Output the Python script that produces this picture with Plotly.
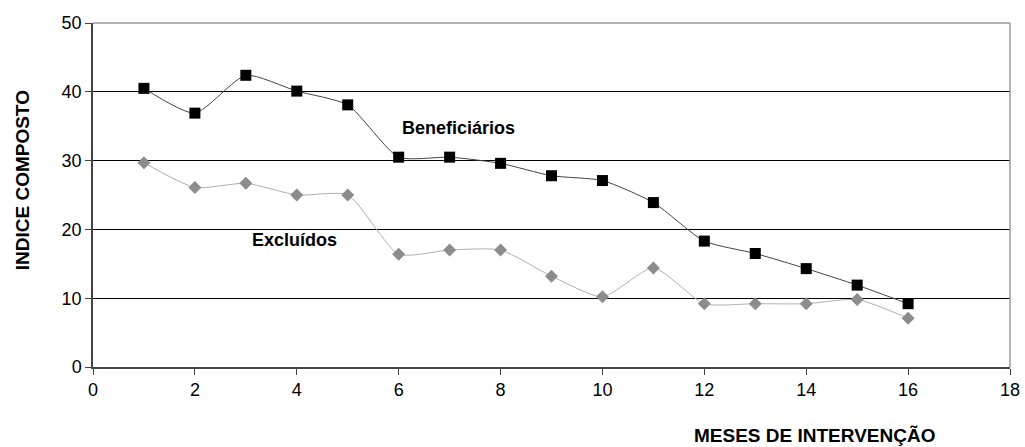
import plotly.graph_objects as go

meses = list(range(1, 17))
beneficiarios = [40.5, 36.9, 42.4, 40.1, 38.1, 30.5, 30.5, 29.6, 27.8, 27.1, 23.9, 18.3, 16.5, 14.3, 11.9, 9.2]
excluidos = [29.7, 26.1, 26.7, 25.0, 25.0, 16.4, 17.0, 17.0, 13.2, 10.2, 14.4, 9.2, 9.2, 9.2, 9.8, 7.1]
x_ticks = list(range(0, 19, 2))
y_ticks = list(range(0, 51, 10))

FONT = "Liberation Sans, Arial, sans-serif"

fig = go.Figure()
fig.add_trace(go.Scatter(
    x=meses, y=excluidos, mode="lines+markers", name="Excluídos",
    line=dict(color="#b0b0b0", width=1, shape="spline", smoothing=0.6),
    marker=dict(symbol="diamond", size=10, color="#8c8c8c"),
))
fig.add_trace(go.Scatter(
    x=meses, y=beneficiarios, mode="lines+markers", name="Beneficiários",
    line=dict(color="#444444", width=1, shape="spline", smoothing=0.6),
    marker=dict(symbol="square", size=11, color="#000000"),
))

fig.add_annotation(x=7.18, y=34.7, text="<b>Beneficiários</b>", showarrow=False,
                   font=dict(family=FONT, size=18, color="#000"))
fig.add_annotation(x=3.95, y=18.5, text="<b>Excluídos</b>", showarrow=False,
                   font=dict(family=FONT, size=18, color="#000"))
fig.add_annotation(xref="paper", yref="paper", x=0.787, y=-0.2, yanchor="middle",
                   xanchor="center", text="<b>MESES DE INTERVENÇÃO</b>", showarrow=False,
                   font=dict(family=FONT, size=19, color="#000"))
fig.add_annotation(xref="paper", yref="paper", x=-0.077, y=0.544, yanchor="middle",
                   xanchor="center", textangle=-90, text="<b>INDICE COMPOSTO</b>",
                   showarrow=False, font=dict(family=FONT, size=19, color="#000"))

fig.update_layout(
    width=1025, height=447,
    margin=dict(l=93, r=15, t=23, b=80, autoexpand=False),
    paper_bgcolor="white", plot_bgcolor="white",
    showlegend=False,
    font=dict(family=FONT, size=18, color="#000"),
    shapes=[
        dict(type="line", xref="paper", yref="paper", x0=0, x1=1, y0=1, y1=1,
             line=dict(color="#999999", width=1.5)),
        dict(type="line", xref="paper", yref="paper", x0=1, x1=1, y0=0, y1=1,
             line=dict(color="#999999", width=1.5)),
    ],
)
fig.update_xaxes(
    range=[0, 18], tickvals=x_ticks, ticks="outside", ticklen=6, tickcolor="#444",
    showgrid=False, zeroline=False, showline=True, linecolor="#444", linewidth=1.5,
    automargin=False,
)
fig.update_yaxes(
    range=[0, 50], tickvals=y_ticks, ticks="outside", ticklen=6, tickcolor="#444",
    showgrid=True, gridcolor="#000000", gridwidth=1, zeroline=False,
    showline=True, linecolor="#444", linewidth=1.5, automargin=False,
)

fig.write_html("out.html", config={"displayModeBar": False},
               post_script="document.body.style.margin='0';document.body.style.overflow='hidden';")
